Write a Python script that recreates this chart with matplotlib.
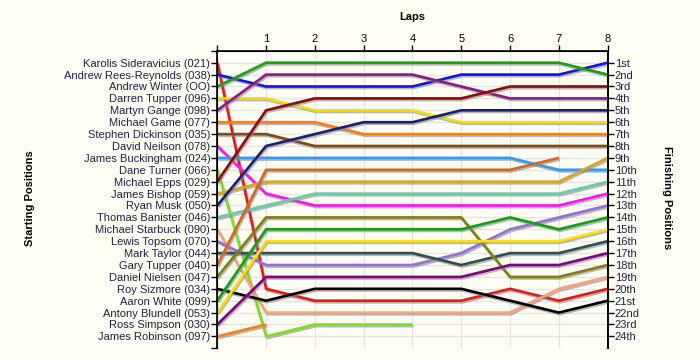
import matplotlib.pyplot as plt
import matplotlib.patheffects as pe

drivers = [
    "Karolis Sideravicius (021)", "Andrew Rees-Reynolds (038)", "Andrew Winter (OO)",
    "Darren Tupper (096)", "Martyn Gange (098)", "Michael Game (077)",
    "Stephen Dickinson (035)", "David Neilson (078)", "James Buckingham (024)",
    "Dane Turner (066)", "Michael Epps (029)", "James Bishop (059)",
    "Ryan Musk (050)", "Thomas Banister (046)", "Michael Starbuck (090)",
    "Lewis Topsom (070)", "Mark Taylor (044)", "Gary Tupper (040)",
    "Daniel Nielsen (047)", "Roy Sizmore (034)", "Aaron White (099)",
    "Antony Blundell (053)", "Ross Simpson (030)", "James Robinson (097)",
]

# position at lap 0..n (shorter list = retired)
positions = [
    [1, 20, 21, 21, 21, 21, 20, 21, 20],
    [2, 3, 3, 3, 3, 2, 2, 2, 1],
    [3, 1, 1, 1, 1, 1, 1, 1, 2],
    [4, 4, 5, 5, 5, 6, 6, 6, 6],
    [5, 2, 2, 2, 2, 3, 4, 4, 4],
    [6, 6, 6, 7, 7, 7, 7, 7, 7],
    [7, 7, 8, 8, 8, 8, 8, 8, 8],
    [8, 12, 13, 13, 13, 13, 13, 13, 12],
    [9, 9, 9, 9, 9, 9, 9, 10, 10],
    [10, 24, 23, 23, 23],
    [11, 5, 4, 4, 4, 4, 3, 3, 3],
    [12, 11, 11, 11, 11, 11, 11, 11, 9],
    [13, 8, 7, 6, 6, 5, 5, 5, 5],
    [14, 13, 12, 12, 12, 12, 12, 12, 11],
    [15, 22, 22, 22, 22, 22, 22, 20, 19],
    [16, 18, 18, 18, 18, 17, 15, 14, 13],
    [17, 17, 17, 17, 17, 18, 17, 17, 16],
    [18, 10, 10, 10, 10, 10, 10, 9],
    [19, 14, 14, 14, 14, 14, 19, 19, 18],
    [20, 21, 20, 20, 20, 20, 21, 22, 21],
    [21, 15, 15, 15, 15, 15, 14, 15, 14],
    [22, 16, 16, 16, 16, 16, 16, 16, 15],
    [23, 19, 19, 19, 19, 19, 18, 18, 17],
    [24, 23],
]

colors = [
    "#E81818", "#1414DC", "#18A018", "#F0E010", "#8A1A8A", "#FF8010",
    "#7F4A18", "#FF10FF", "#3399FF", "#80E020", "#8B0A0A", "#DAA520",
    "#1E1E70", "#66CDAA", "#FFA07A", "#9370DB", "#2F4F4F", "#D2691E",
    "#808010", "#000000", "#10A010", "#FFE010", "#800080", "#FF8010",
]

finish_labels = ["1st", "2nd", "3rd"] + [f"{i}th" for i in range(4, 21)] + ["21st", "22nd", "23rd", "24th"]
n_laps = 8

bg = "#FFFEF4"
fig = plt.figure(figsize=(7, 3.6), dpi=100, facecolor=bg)
ax = fig.add_axes([0.3104, 0.0325, 0.5577, 0.8264], facecolor=bg)

for pos, c in zip(positions, colors):
    ax.plot(range(len(pos)), pos, color=c, lw=1.9, solid_capstyle="butt", zorder=3,
            path_effects=[pe.SimpleLineShadow(offset=(0.8, -1.2), shadow_color="#888888", alpha=0.6),
                          pe.Normal()])

ax.set_xlim(0, n_laps)
ax.set_ylim(25, 0)
for i in range(1, n_laps + 1):
    ax.axvline(i, color="#E4E4E4", lw=0.9, zorder=1)
for p in range(1, 25):
    ax.axhline(p, color="#E4E4E4", lw=0.9, zorder=1)

ax.xaxis.tick_top()
ax.set_xticks(range(n_laps + 1))
ax.set_xticklabels([""] + [str(i) for i in range(1, n_laps + 1)], fontsize=8, family="Liberation Sans")
ax.set_title("Laps", fontsize=8, fontweight="bold", pad=22, family="Liberation Sans")

ax.set_yticks(range(26))
ax.set_yticklabels([""] + drivers + [""], fontsize=8, color="#20204A", family="Liberation Sans")
ax.tick_params(axis="both", length=4, width=1, pad=1)
ax.spines["bottom"].set_visible(False)
for s in ["top", "left", "right"]:
    ax.spines[s].set_linewidth(1.2)

ax2 = ax.twinx()
ax2.set_ylim(25, 0)
ax2.set_yticks(range(1, 25))
ax2.set_yticklabels(finish_labels, fontsize=8, color="#20204A", family="Liberation Sans")
ax2.tick_params(axis="y", length=4, width=1, pad=1)
ax2.spines["bottom"].set_visible(False)
ax2.spines["right"].set_linewidth(1.2)

fig.text(0.043, 0.45, "Starting Positions", rotation=90, ha="center", va="center",
         fontsize=8, fontweight="bold", family="Liberation Sans")
fig.text(0.953, 0.45, "Finishing Positions", rotation=-90, ha="center", va="center",
         fontsize=8, fontweight="bold", family="Liberation Sans")

fig.savefig("out.png", dpi=100, facecolor=bg)
